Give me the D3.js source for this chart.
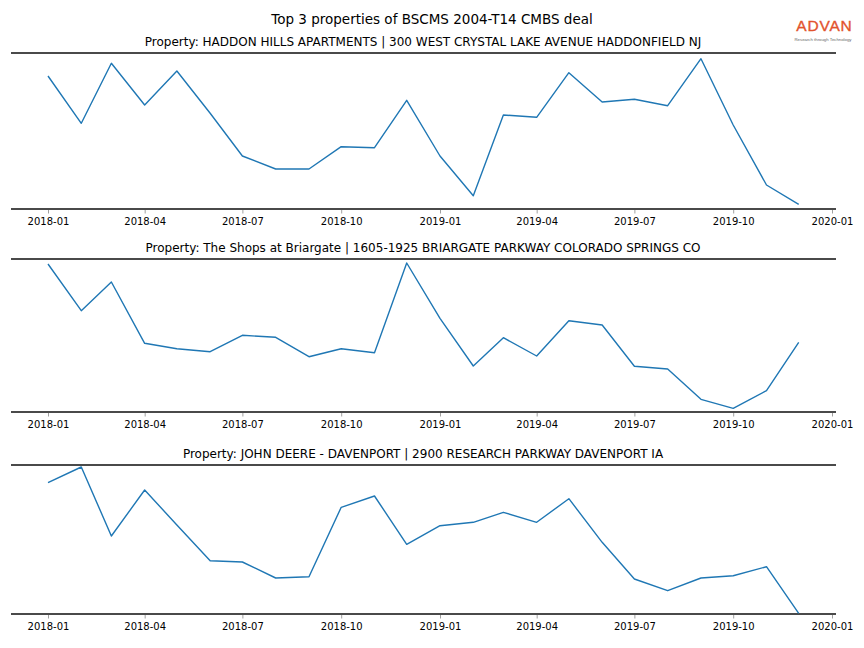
<!DOCTYPE html>
<html>
<head>
<meta charset="utf-8">
<script src="https://cdn.jsdelivr.net/npm/d3@7"></script>
<style>
  html, body { margin: 0; padding: 0; background: #fff; }
  svg { display: block; font-family: "DejaVu Sans", sans-serif; }
</style>
</head>
<body>
<div id="chart"></div>
<script>
// ---------- data ----------
const mainTitle = "Top 3 properties of BSCMS 2004-T14 CMBS deal";
const months = ["2018-01","2018-02","2018-03","2018-04","2018-05","2018-06","2018-07","2018-08","2018-09","2018-10","2018-11","2018-12",
                "2019-01","2019-02","2019-03","2019-04","2019-05","2019-06","2019-07","2019-08","2019-09","2019-10","2019-11","2019-12"];
const tickLabels = ["2018-01","2018-04","2018-07","2018-10","2019-01","2019-04","2019-07","2019-10","2020-01"];

const titles = [
  "Property: HADDON HILLS APARTMENTS | 300 WEST CRYSTAL LAKE AVENUE HADDONFIELD NJ",
  "Property: The Shops at Briargate | 1605-1925 BRIARGATE PARKWAY COLORADO SPRINGS CO",
  "Property: JOHN DEERE - DAVENPORT | 2900 RESEARCH PARKWAY DAVENPORT IA"
];
// relative activity index (no y axis shown)
const haddonHills = [133, 85.7, 145.7, 104, 138, 95.7, 53, 40, 40, 62.3, 61.3, 108.7,
                     53, 13.3, 94, 91.7, 136.3, 107, 109.7, 103.3, 150.3, 84, 24, 4.7];
const shopsBriargate = [148, 101.3, 130, 68.7, 63.3, 60.3, 76.7, 74.7, 55.3, 63.3, 59.3, 149,
                        93.7, 46, 74.3, 56, 91.3, 87, 45.7, 43, 12.7, 3.7, 21.3, 69.7];
const johnDeere = [131.3, 147, 78, 124, 89, 53.3, 52, 36, 37.3, 106.7, 118, 69.7,
                   88.3, 91.7, 101.7, 91.7, 115.3, 71.7, 35, 23.3, 36, 38.3, 47.3, 0.7];
const seriesList = [haddonHills, shopsBriargate, johnDeere];
const yMax = [156, 153, 149];

// ---------- layout ----------
const W = 864, H = 648;
const left = 11, right = 836;
const panels = [ {top: 53, bottom: 209}, {top: 259, bottom: 412}, {top: 465, bottom: 614} ];
const parse = d3.timeParse("%Y-%m");

const svg = d3.select("#chart").append("svg").attr("width", W).attr("height", H);

svg.append("text").attr("x", 432).attr("y", 24).attr("text-anchor", "middle")
  .attr("font-size", "13.5px").attr("fill", "#000").text(mainTitle);

// logo
const logo = svg.append("g");
logo.append("text").attr("x", 824.5).attr("y", 31).attr("text-anchor", "middle")
  .attr("font-family", "Liberation Sans, Arial, sans-serif").attr("font-size", "15.5px")
  .attr("fill", "#e2532d").attr("stroke", "#e2532d").attr("stroke-width", 0.35)
  .attr("letter-spacing", "0.8px").text("ADVAN");
logo.append("text").attr("x", 823).attr("y", 40.5).attr("text-anchor", "middle")
  .attr("font-family", "Liberation Sans, Arial, sans-serif").attr("font-size", "4.3px")
  .attr("fill", "#666").text("Research through Technology");

const x = d3.scaleTime()
  .domain([parse("2018-01"), parse("2020-01")])
  .range([48, 832]);

panels.forEach((p, i) => {
  const g = svg.append("g");
  const y = d3.scaleLinear().domain([0, yMax[i]]).range([p.bottom, p.top]);

  g.append("text").attr("x", 423).attr("y", p.top - 7).attr("text-anchor", "middle")
    .attr("font-size", "12px").attr("fill", "#000").text(titles[i]);

  // x axis
  const axis = d3.axisBottom(x)
    .tickValues(tickLabels.map(parse))
    .tickFormat(d3.timeFormat("%Y-%m"))
    .tickSize(3.5).tickPadding(4);
  const ax = g.append("g").attr("transform", `translate(0,${p.bottom + 1})`).call(axis);
  ax.select(".domain").remove();
  ax.selectAll(".tick line").attr("stroke", "#888").attr("stroke-width", 0.8);
  ax.selectAll(".tick text").attr("font-size", "10px").attr("fill", "#000")
    .attr("font-family", "DejaVu Sans, sans-serif");

  // spines
  [p.top, p.bottom].forEach(yy => {
    g.append("line").attr("x1", left).attr("x2", right).attr("y1", yy).attr("y2", yy)
      .attr("stroke", "#4a4a4a").attr("stroke-width", 1.8);
  });

  const line = d3.line().x((d, j) => x(parse(months[j]))).y(d => y(d));
  g.append("path").datum(seriesList[i]).attr("d", line)
    .attr("fill", "none").attr("stroke", "#1f77b4").attr("stroke-width", 1.4)
    .attr("stroke-linejoin", "round");
});
</script>
</body>
</html>
